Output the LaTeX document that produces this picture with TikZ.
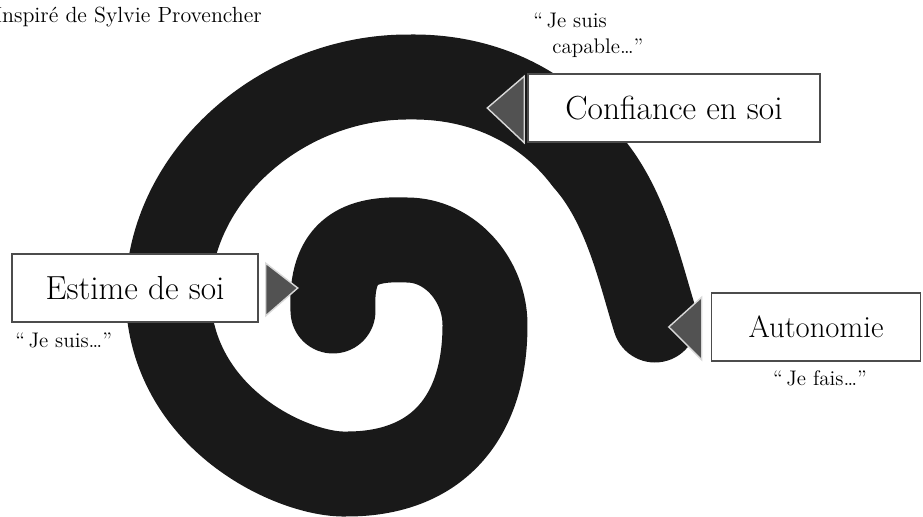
\documentclass[tikz,border=0pt]{standalone}
\usepackage{fontspec}
\begin{document}
\begin{tikzpicture}[x=0.02cm, y=-0.02cm,
        band/.style={draw=black!90, line width=1.7cm, line cap=round, line join=round},
        box/.style={draw=black!70, fill=white, line width=0.9pt, minimum height=1.36cm, inner sep=0pt, font=\fontsize{19}{22}\selectfont},
        pointer/.style={fill=black!68, draw=black!15, line width=0.8pt},
        saying/.style={inner sep=0pt, font=\fontsize{12}{14.7}\selectfont}]
    \useasboundingbox (0,0) rectangle (923,517);
    \draw[band] (333,311) .. controls (330,250) and (360,238) .. (407,240)
        .. controls (450,240) and (485,280) .. (485,325)
        .. controls (485,420) and (435,474) .. (347,474)
        .. controls (295,476) and (170,420) .. (168,295)
        .. controls (168,178) and (280,76) .. (410,77)
        .. controls (490,76) and (550,112) .. (586,160)
        .. controls (626,205) and (640,272) .. (655,320);
    \node[saying, anchor=base west, font=\fontsize{12.5}{15}\selectfont] (credit) at (-6,23) {Inspiré de Sylvie Provencher};
    \node[box, minimum width=5.84cm] (conf) at (674,108) {Confiance en soi};
    \node[box, minimum width=4.92cm] (estime) at (135,288) {Estime de soi};
    \node[box, minimum width=4.18cm, font=\fontsize{17.5}{21}\selectfont] (auto) at (816,327) {Autonomie};
    \filldraw[pointer] ([xshift=-0.06cm, yshift=-0.06cm]conf.north west) -- ([xshift=-0.06cm]conf.south west) -- ([xshift=-0.8cm]conf.west) -- cycle;
    \filldraw[pointer] ([xshift=0.14cm, yshift=-0.2cm]estime.north east) -- ([xshift=0.14cm, yshift=0.14cm]estime.south east) -- ([xshift=0.78cm]estime.east) -- cycle;
    \filldraw[pointer] ([xshift=-0.18cm, yshift=-0.1cm]auto.north west) -- ([xshift=-0.18cm, yshift=0.04cm]auto.south west) -- ([xshift=-0.84cm]auto.west) -- cycle;
    \node[saying, anchor=north west, align=left] (capable) at (533,13) {“\,Je suis\\\hspace*{0.9em}capable…”};
    \node[saying, anchor=base west] (suis) at (15,347) {“\,Je suis…”};
    \node[saying, anchor=base] (fais) at (820,385) {“\,Je fais…”};
\end{tikzpicture}
\end{document}
